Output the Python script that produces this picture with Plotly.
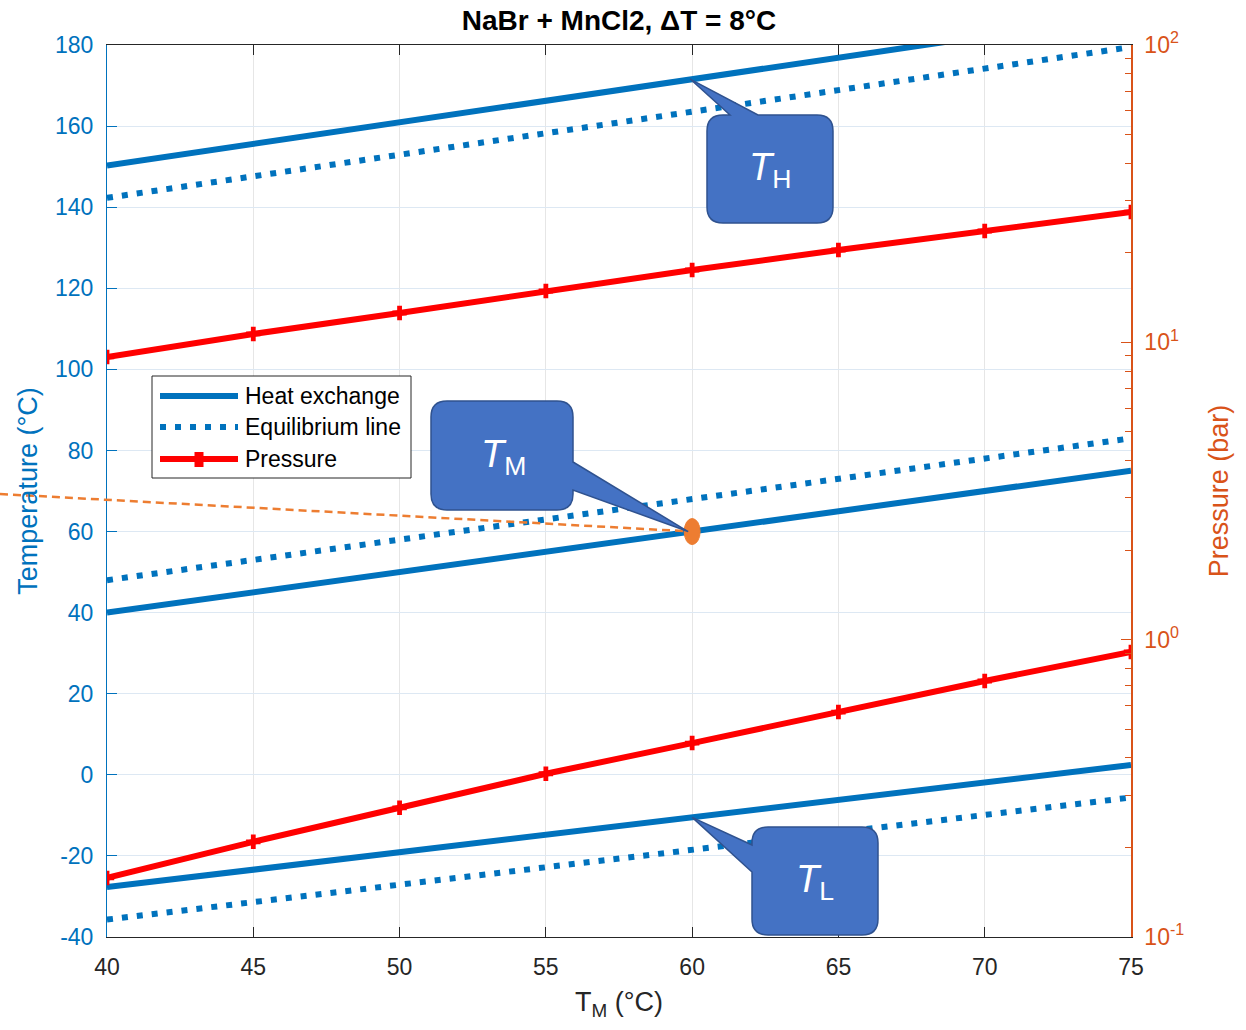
import plotly.graph_objects as go

# ---------------- data ----------------
T_M = [40, 45, 50, 55, 60, 65, 70, 75]
heat_high = [150.3, 155.6, 160.9, 166.3, 171.6, 176.9, 182.2, 187.5]
eq_high = [142.3, 147.6, 152.9, 158.3, 163.6, 168.9, 174.2, 179.5]
heat_mid = [40, 45, 50, 55, 60, 65, 70, 75]
eq_mid = [48, 53, 58, 63, 68, 73, 78, 83]
heat_low = [-27.7, -23.4, -19.1, -14.8, -10.5, -6.2, -1.9, 2.4]
eq_low = [-35.7, -31.4, -27.1, -22.8, -18.5, -14.2, -9.9, -5.6]
p_high = [8.93, 10.67, 12.55, 14.88, 17.51, 20.44, 23.68, 27.43]
p_low = [0.158, 0.209, 0.272, 0.354, 0.449, 0.571, 0.726, 0.909]

x_ticks = [40, 45, 50, 55, 60, 65, 70, 75]
y_ticks = [-40, -20, 0, 20, 40, 60, 80, 100, 120, 140, 160, 180]
y_ticktext = ['-40', '-20', '0', '20', '40', '60', '80', '100', '120', '140', '160', '180']
p_ticks = [0.1, 1, 10, 100]
p_ticktext = ['10<sup>-1</sup>', '10<sup>0</sup>', '10<sup>1</sup>', '10<sup>2</sup>']
legend_names = ['Heat exchange', 'Equilibrium line', 'Pressure']

BLUE = '#0072BD'
ORANGE = '#D95319'
RED = '#FF0000'
FONT = 'Liberation Sans, Arial, sans-serif'

W, H = 1246, 1030
L, R, T, B = 107, 115, 45, 93
PW, PH = W - L - R, H - T - B
XR = (40, 75)
YR = (-40, 180)


def px2paper(px, py):
    return (px - L) / PW, (H - B - py) / PH


def data2px(x, y):
    return L + (x - XR[0]) / (XR[1] - XR[0]) * PW, T + (YR[1] - y) / (YR[1] - YR[0]) * PH


def path_str(cmds):
    out = []
    for c in cmds:
        if c == 'Z':
            out.append('Z')
            continue
        op = c[0]
        pts = c[1:]
        conv = []
        for i in range(0, len(pts), 2):
            xp, yp = px2paper(pts[i], pts[i + 1])
            conv.append(f'{xp:.5f},{yp:.5f}')
        out.append(op + ' '.join(conv))
    return ' '.join(out)


def callout(l, t, r, b, rad, edge, a, bb, tip):
    P = [('M', l + rad, t)]
    if edge == 'top':
        P += [('L', a, t), ('L', tip[0], tip[1]), ('L', bb, t)]
    P += [('L', r - rad, t), ('Q', r, t, r, t + rad)]
    if edge == 'right':
        P += [('L', r, a), ('L', tip[0], tip[1]), ('L', r, bb)]
    P += [('L', r, b - rad), ('Q', r, b, r - rad, b)]
    P += [('L', l + rad, b), ('Q', l, b, l, b - rad)]
    if edge == 'left':
        P += [('L', l, a), ('L', tip[0], tip[1]), ('L', l, bb)]
    P += [('L', l, t + rad), ('Q', l, t, l + rad, t), 'Z']
    return dict(type='path', xref='paper', yref='paper', path=path_str(P),
                fillcolor='#4472C4', line=dict(color='#2F528F', width=1.5), layer='above')


fig = go.Figure()

dot = '6px,9px'
for y, dash in [(heat_high, 'solid'), (eq_high, dot), (heat_mid, 'solid'), (eq_mid, dot),
                (heat_low, 'solid'), (eq_low, dot)]:
    fig.add_trace(go.Scatter(x=T_M, y=y, mode='lines', line=dict(color=BLUE, width=6, dash=dash),
                             showlegend=False, hoverinfo='skip'))

for p in [p_high, p_low]:
    fig.add_trace(go.Scatter(x=T_M, y=p, yaxis='y2', mode='lines+markers',
                             line=dict(color=RED, width=6),
                             marker=dict(symbol='cross', size=12, color=RED),
                             showlegend=False, hoverinfo='skip'))

shapes = []
annotations = []

# orange dashed line to T_M point and ellipse
ex, ey = px2paper(*data2px(T_M[4], heat_mid[4]))
sx, sy = px2paper(0, 494)
shapes.append(dict(type='line', xref='paper', yref='paper', x0=sx, y0=sy, x1=ex, y1=ey,
                   line=dict(color='#ED7D31', width=2.5, dash='8px,5px'), layer='above'))
shapes.append(dict(type='circle', xref='x', yref='y', xsizemode='pixel', ysizemode='pixel',
                   xanchor=T_M[4], yanchor=heat_mid[4], x0=-8, x1=8, y0=-13, y1=13,
                   fillcolor='#ED7D31', line=dict(color='#ED7D31', width=1), layer='above'))

# callouts
tipH = data2px(T_M[4], heat_high[4])
tipM = data2px(T_M[4], heat_mid[4])
tipL = data2px(T_M[4], heat_low[4])
shapes.append(callout(707, 115, 833, 223, 16, 'top', 730, 758, (tipH[0] - 2, tipH[1])))
shapes.append(callout(431, 401, 573, 510, 16, 'right', 462, 490, (tipM[0] - 4, tipM[1])))
shapes.append(callout(752, 827, 878, 935, 16, 'left', 872, 845, (tipL[0], tipL[1])))

for (cx, cy, sub) in [(770, 170, 'H'), (503, 457, 'M'), (815, 882, 'L')]:
    xp, yp = px2paper(cx, cy)
    annotations.append(dict(xref='paper', yref='paper', x=xp, y=yp, showarrow=False,
                            text=f'<i>T</i><sub>{sub}</sub>',
                            font=dict(color='white', size=38, family=FONT),
                            xanchor='center', yanchor='middle'))

# custom legend
x0p, y0p = px2paper(152, 478)
x1p, y1p = px2paper(411, 376)
shapes.append(dict(type='rect', xref='paper', yref='paper', x0=x0p, y0=y0p, x1=x1p, y1=y1p,
                   fillcolor='white', line=dict(color='#262626', width=1), layer='above'))
rows = [396, 427, 459]
styles = [(BLUE, 'solid'), (BLUE, dot), (RED, 'solid')]
for name, ry, (col, dsh) in zip(legend_names, rows, styles):
    lx0, ly = px2paper(160, ry)
    lx1, _ = px2paper(238, ry)
    shapes.append(dict(type='line', xref='paper', yref='paper', x0=lx0, y0=ly, x1=lx1, y1=ly,
                       line=dict(color=col, width=6, dash=dsh), layer='above'))
    tx, ty = px2paper(243, ry)
    annotations.append(dict(xref='paper', yref='paper', x=tx, y=ty, text=name, showarrow=False,
                            xanchor='left', yanchor='middle',
                            font=dict(size=23, color='black', family=FONT)))
shapes.append(dict(type='path', xref='paper', yref='paper', layer='above',
                   path=path_str([('M', 194.5, 452), ('L', 203.5, 452), ('L', 203.5, 467),
                                  ('L', 194.5, 467), 'Z']),
                   fillcolor=RED, line=dict(color=RED, width=0)))

minor_vals = [m * 10 ** e for e in (-1, 0, 1) for m in range(2, 10)]

fig.update_layout(
    width=W, height=H, autosize=False,
    margin=dict(l=L, r=R, t=T, b=B, pad=0),
    paper_bgcolor='white', plot_bgcolor='white',
    font=dict(family=FONT, size=22, color='#262626'),
    title=dict(text='<b>NaBr + MnCl2, ΔT = 8°C</b>', x=0.5, xref='paper', xanchor='center',
               y=1 - 20 / H, yref='container', yanchor='middle',
               font=dict(size=28, color='black', family=FONT)),
    xaxis=dict(range=list(XR), tickvals=x_ticks, ticks='inside', ticklen=10, tickcolor='#262626',
               showline=True, linecolor='#262626', linewidth=1, mirror='ticks',
               showgrid=True, gridcolor='#E6E6E6', gridwidth=1, zeroline=False,
               tickfont=dict(size=23, color='#262626'), ticklabelstandoff=9,
               title=dict(text='T<sub>M</sub> (°C)', font=dict(size=27, color='#262626'), standoff=13)),
    yaxis=dict(range=list(YR), tickvals=y_ticks, ticktext=y_ticktext, ticks='inside', ticklen=10,
               tickcolor=BLUE, showline=True, linecolor=BLUE, linewidth=1,
               showgrid=True, gridcolor='#DDE8F3', gridwidth=1, zeroline=False,
               tickfont=dict(size=23, color=BLUE), ticklabelstandoff=8,
               title=dict(text='Temperature (°C)', font=dict(size=27, color=BLUE), standoff=9)),
    yaxis2=dict(type='log', range=[-1, 2], overlaying='y', side='right', anchor='x',
                tickvals=p_ticks, ticktext=p_ticktext, ticks='inside', ticklen=10,
                tickcolor=ORANGE, showline=True, linecolor=ORANGE, linewidth=1.5,
                showgrid=False, zeroline=False, ticklabelstandoff=7,
                minor=dict(tickvals=minor_vals, ticks='inside', ticklen=6, tickcolor=ORANGE,
                           showgrid=False),
                tickfont=dict(size=23, color=ORANGE),
                title=dict(text='Pressure (bar)', font=dict(size=27, color=ORANGE), standoff=26)),
    shapes=shapes,
    annotations=annotations,
    showlegend=False,
)

fig.write_html('out.html')
